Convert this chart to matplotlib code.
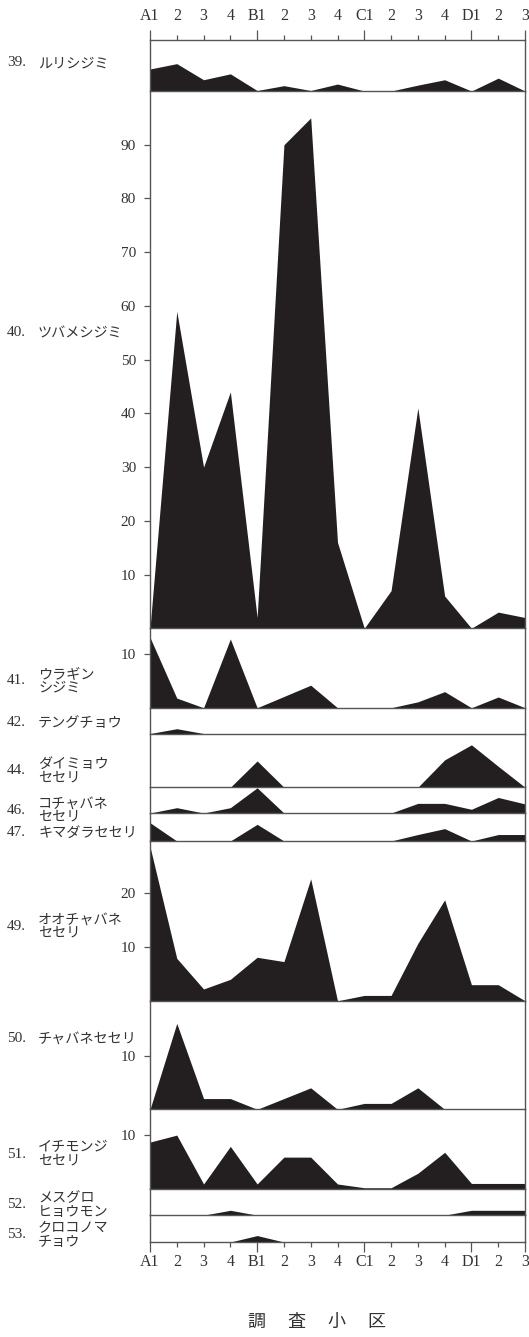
import matplotlib
matplotlib.use('Agg')
import matplotlib.pyplot as plt
import numpy as np
from matplotlib.ticker import FixedLocator, FixedFormatter

plt.rcParams['font.family'] = ['Liberation Serif', 'Noto Sans CJK JP']

# ---------------- data ----------------
plots = ['A1', '2', '3', '4', 'B1', '2', '3', '4', 'C1', '2', '3', '4', 'D1', '2', '3']

species_no = ['39.', '40.', '41.', '42.', '44.', '46.', '47.', '49.', '50.', '51.', '52.', '53.']
species_name = ['ルリシジミ', 'ツバメシジミ', 'ウラギン\nシジミ', 'テングチョウ',
                'ダイミョウ\nセセリ', 'コチャバネ\nセセリ', 'キマダラセセリ',
                'オオチャバネ\nセセリ', 'チャバネセセリ', 'イチモンジ\nセセリ',
                'メスグロ\nヒョウモン', 'クロコノマ\nチョウ']

s39 = [4.1, 5.1, 2.1, 3.2, 0.1, 1.0, 0.1, 1.3, 0, 0, 1.1, 2.1, 0, 2.4, 0]
s40 = [0, 59, 30, 44, 2, 90, 95, 16, 0, 7, 41, 6, 0, 3, 2]
s41 = [13.1, 1.8, 0, 12.8, 0, 2.1, 4.2, 0, 0, 0, 1.1, 3.0, 0, 2.0, 0]
s42 = [0, 0.9, 0, 0, 0, 0, 0, 0, 0, 0, 0, 0, 0, 0, 0]
s44 = [0, 0, 0, 0, 4.9, 0, 0, 0, 0, 0, 0, 5.1, 7.9, 3.9, 0]
s46 = [0, 1.0, 0, 1.0, 4.7, 0, 0, 0, 0, 0, 1.8, 1.8, 0.7, 2.9, 1.7]
s47 = [3.4, 0, 0, 0, 3.1, 0, 0, 0, 0, 0, 1.2, 2.3, 0, 1.2, 1.2]
s49 = [28.7, 7.9, 2.2, 4.0, 8.1, 7.3, 22.7, 0, 1.0, 1.0, 10.7, 18.8, 3.0, 3.0, 0]
s50 = [0, 16, 2, 2, 0, 2, 4, 0, 1.1, 1.1, 4, 0, 0, 0, 0]
s51 = [8.7, 10, 0.9, 7.9, 0.9, 5.9, 5.9, 0.9, 0.2, 0.2, 2.9, 6.8, 1.0, 1.0, 1.0]
s52 = [0, 0, 0, 0.9, 0, 0, 0, 0, 0, 0, 0, 0, 0.9, 0.9, 0.9]
s53 = [0, 0, 0, 0, 1.2, 0, 0, 0, 0, 0, 0, 0, 0, 0, 0]

series = [s39, s40, s41, s42, s44, s46, s47, s49, s50, s51, s52, s53]

panel_ticks = [[], [10, 20, 30, 40, 50, 60, 70, 80, 90], [10], [], [], [], [],
               [10, 20], [10], [10], [], []]

# ---------------- layout ----------------
W, H = 529, 1337
panel_top = [9.5, 100, 14.8, 4.8, 10, 4.8, 5.2, 29.75, 20.2, 14.8, 4.9, 5.0]
label_y = [63, 333, 681, 723, 771, 810, 833, 926, 1039, 1154, 1205, 1235]

FILL = '#231f20'
LINE = '#555555'
TXT = '#333333'

fig = plt.figure(figsize=(W / 100, H / 100), dpi=100)
gs = fig.add_gridspec(len(series), 1, height_ratios=panel_top, hspace=0,
                      left=150 / W, right=525 / W, top=1 - 40 / H, bottom=1 - 1242 / H)

x = np.arange(len(plots))
major_idx = [0, 4, 8, 12, 14]
minor_idx = [i for i in range(len(plots)) if i not in major_idx]

for i, vals in enumerate(series):
    ax = fig.add_subplot(gs[i])
    ax.patch.set_visible(False)
    ax.fill_between(x, 0, vals, color=FILL, lw=0)
    ax.set_xlim(0, len(plots) - 1)
    ax.set_ylim(0, panel_top[i])
    for s in ax.spines.values():
        s.set_color(LINE)
        s.set_linewidth(1.0)
    if i > 0:
        ax.spines['top'].set_visible(False)

    ax.set_yticks(panel_ticks[i])
    ax.set_yticklabels([str(t) for t in panel_ticks[i]])
    ax.tick_params(axis='y', direction='out', length=4, width=0.9, pad=6,
                   color=LINE, labelcolor=TXT, labelsize=11)

    ax.tick_params(axis='x', which='both', bottom=False, top=False,
                   labelbottom=False, labeltop=False)
    if i == 0 or i == len(series) - 1:
        ax.xaxis.set_major_locator(FixedLocator(major_idx))
        ax.xaxis.set_major_formatter(FixedFormatter([plots[k] for k in major_idx]))
        ax.xaxis.set_minor_locator(FixedLocator(minor_idx))
        ax.xaxis.set_minor_formatter(FixedFormatter([plots[k] for k in minor_idx]))
        top = (i == 0)
        pad_extra = 2.5 if top else 0
        ax.tick_params(axis='x', which='major', direction='out', top=top, labeltop=top,
                       bottom=not top, labelbottom=not top, length=7, width=0.9,
                       pad=2 + pad_extra, color=LINE, labelcolor=TXT, labelsize=11.5)
        ax.tick_params(axis='x', which='minor', direction='out', top=top, labeltop=top,
                       bottom=not top, labelbottom=not top, length=3.5, width=0.9,
                       pad=5.5 + pad_extra, color=LINE, labelcolor=TXT, labelsize=11.5)

    yy = 1 - label_y[i] / H
    fig.text(7 / W, yy, species_no[i], ha='left', va='center', fontsize=11,
             color=TXT, family=['Liberation Serif'])
    fig.text(38 / W, yy, species_name[i], ha='left', va='center', fontsize=10.2,
             color=TXT, family=['Noto Sans CJK JP'], linespacing=0.95)

fig.text(317 / W, 1 - 1322 / H, '調　 査　 小　 区', ha='center', va='center',
         fontsize=13, color=TXT, family=['Noto Sans CJK JP'])

fig.savefig('out.png', dpi=100)
